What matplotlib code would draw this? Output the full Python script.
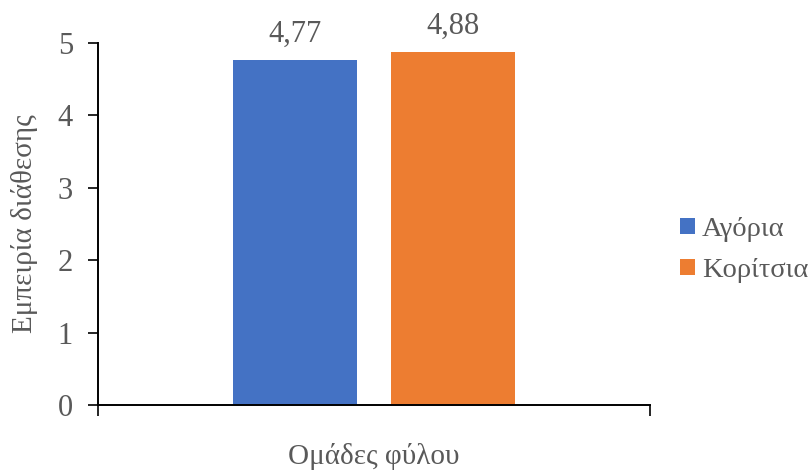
import matplotlib
matplotlib.use("Agg")
import matplotlib.pyplot as plt
import numpy as np

# data
groups = ["Αγόρια", "Κορίτσια"]
values = [4.77, 4.88]
colors = ["#4472C4", "#ED7D31"]
value_labels = ["4,77", "4,88"]
yticks = [0, 1, 2, 3, 4, 5]

plt.rcParams['font.family'] = ['Liberation Serif', 'DejaVu Serif']
text_color = "#595959"

fig = plt.figure(figsize=(8.12, 4.70), dpi=100)
ax = fig.add_axes([98 / 812, 1 - 405 / 470, 552 / 812, 362 / 470])

offsets = np.array([-0.1427, 0.1427])
width = 0.2255
for off, v, c, g, lab in zip(offsets, values, colors, groups, value_labels):
    ax.bar(0.5 + off, v, width=width, color=c, label=g, zorder=2)
    ax.text(0.5 + off, v + 0.15, lab, ha="center", va="bottom",
            fontsize=22, color=text_color)

ax.set_xlim(0, 1)
ax.set_ylim(0, 5)
ax.set_yticks(yticks)
ax.set_yticklabels([str(t) for t in yticks], fontsize=22, color=text_color)
ax.set_xticks([0, 1])
ax.set_xticklabels([])
ax.tick_params(axis="y", direction="out", length=7, width=1.2, pad=11)
ax.tick_params(axis="x", direction="out", length=8, width=1.2)

for s in ["top", "right"]:
    ax.spines[s].set_visible(False)
for s in ["left", "bottom"]:
    ax.spines[s].set_linewidth(1.4)
    ax.spines[s].set_color("black")

ax.set_ylabel("Εμπειρία διάθεσης", fontsize=21, color=text_color, labelpad=14)
ax.set_xlabel("Ομάδες φύλου", fontsize=21, color=text_color, labelpad=16)

leg = ax.legend(loc="center left", bbox_to_anchor=(1.054, 0.428), frameon=False,
                fontsize=20.5, handlelength=0.52, handleheight=0.52,
                handletextpad=0.25, labelspacing=0.55, borderpad=0,
                borderaxespad=0)
for t in leg.get_texts():
    t.set_color(text_color)

fig.savefig("out.png", dpi=100)
